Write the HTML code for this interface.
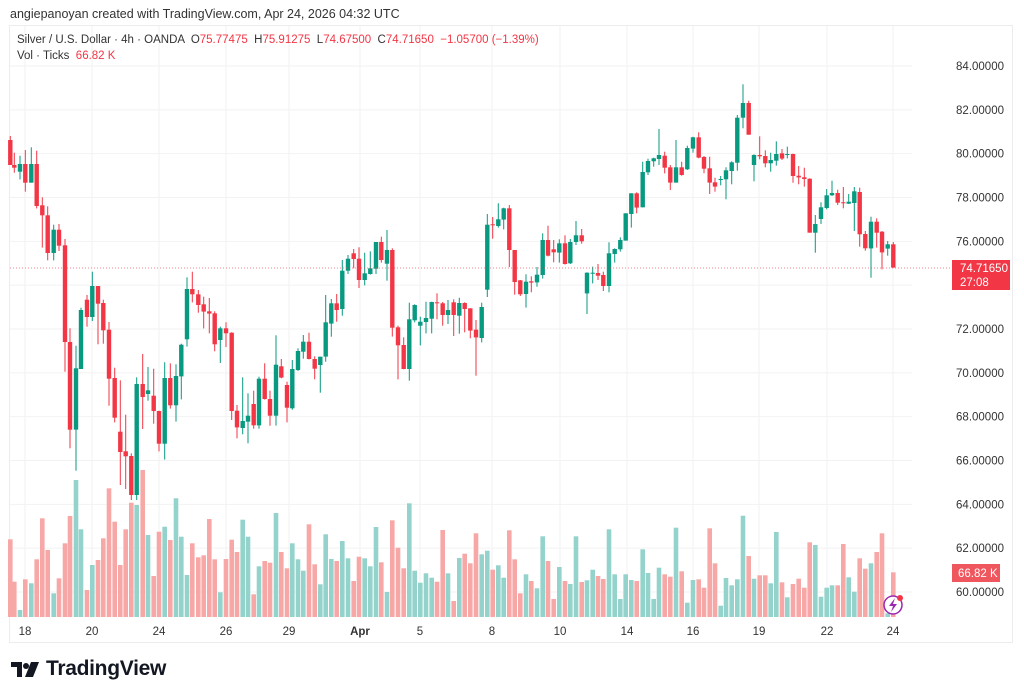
<!DOCTYPE html>
<html><head><meta charset="utf-8"><style>
body{margin:0;background:#fff;width:1024px;height:699px;overflow:hidden;font-family:"Liberation Sans",sans-serif;position:relative}
.t{position:absolute;white-space:nowrap}
</style></head><body>
<div class="t" style="left:10px;top:7px;font-size:12.5px;color:#333">angiepanoyan created with TradingView.com, Apr 24, 2026 04:32 UTC</div>
<div style="position:absolute;left:9px;top:25px;width:1004px;height:618px;border:1px solid #ececec;box-sizing:border-box"></div>
<svg id="c" width="1024" height="699" style="position:absolute;left:0;top:0"></svg>
<div class="t" style="left:17px;top:34px;font-size:11.5px;color:#333">Silver / U.S. Dollar · 4h · OANDA &nbsp;O<span style="color:#f23645">75.77475</span> &nbsp;H<span style="color:#f23645">75.91275</span> &nbsp;L<span style="color:#f23645">74.67500</span> &nbsp;C<span style="color:#f23645">74.71650</span> &nbsp;<span style="color:#f23645">−1.05700 (−1.39%)</span></div>
<div class="t" style="left:17px;top:50px;font-size:11.5px;color:#333">Vol · Ticks &nbsp;<span style="color:#f23645">66.82 K</span></div>
<svg style="position:absolute;left:11px;top:662px" width="30" height="16"><path d="M0 0H11V15H6V5H0Z" fill="#131722"/><circle cx="15" cy="4" r="3" fill="#131722"/><path d="M20 0H28L22 15H14Z" fill="#131722"/></svg>
<div class="t" style="left:46px;top:657px;font-size:21px;font-weight:bold;color:#131722;letter-spacing:-0.3px">TradingView</div>
<script>
const s=document.getElementById('c');let h='';
const R='#f23645',G='#089981',VR='#f7a8a6',VG='#93d3cc';
const yp=p=>66+(84-p)*21.917;
for(let p=60;p<=84;p+=2){const y=yp(p);h+=`<line x1="10" x2="912" y1="${y}" y2="${y}" stroke="#f2f2f2"/>`;
h+=`<text x="1004" y="${y+4}" font-size="11.5" fill="#333" text-anchor="end" font-family="Liberation Sans">${p.toFixed(5)}</text>`;}
const dx=[[25,'18'],[92,'20'],[159,'24'],[226,'26'],[289,'29'],[360,'Apr'],[420,'5'],[492,'8'],[560,'10'],[627,'14'],[693,'16'],[759,'19'],[827,'22'],[893,'24']];
dx.forEach(([x,l])=>{h+=`<line x1="${x}" x2="${x}" y1="26" y2="618" stroke="#f2f2f2"/>`;
h+=`<text x="${x}" y="635" font-size="11.5" fill="#333" text-anchor="middle" font-family="Liberation Sans" ${l=='Apr'?'font-weight="bold"':''}>${l}</text>`});
const A=[[31,60,135,48,135,'r',208],[43,135,143,98,158,'r',335],[60,132,155,107,178,'g',420],[76,132,188,90,215,'r',328],[94,132,188,82,188,'g',340],[110,132,258,92,265,'r',268],[127,256,286,232,383,'r',145],[143,286,399,259,421,'r',240],[161,329,399,314,421,'g',370],[177,329,377,312,393,'r',325],[195,376,666,357,755,'r',220],[210,666,929,625,985,'r',138],[228,745,929,677,1052,'g',30],[243,570,747,563,747,'g',178],[261,539,591,525,620,'r',360],[277,498,591,455,603,'g',285],[294,498,551,498,673,'r',270],[310,549,631,539,671,'r',205],[327,629,776,606,857,'r',55],[344,774,893,743,907,'r',155],[361,935,996,781,1095,'r',285],[377,994,1009,884,1107,'r',178],[394,1008,1125,1000,1140,'r',98],[410,792,1125,772,1140,'g',105],[428,792,831,702,927,'r',0],[444,811,822,741,842,'g',195],[461,827,873,746,911,'r',318],[477,873,971,872,994,'r',185],[494,774,971,727,1019,'g',170],[511,774,856,730,866,'r',210],[528,768,856,733,905,'g',85],[544,674,769,671,838,'g',200],[561,507,658,472,680,'g',315],[577,507,523,455,547,'r',220],[595,523,555,510,578,'r',262],[611,553,575,530,625,'r',256],[628,574,581,534,640,'r',147],[644,580,673,574,694,'r',268],[661,625,660,620,729,'g',367],[678,625,640,607,681,'r',267],[695,638,873,637,900,'r',209],[711,872,922,855,955,'r',246],[728,903,924,772,943,'g',149],[744,887,905,820,970,'g',200],[761,852,916,812,926,'r',373],[777,776,916,770,926,'g',289],[794,776,837,730,839,'r',273],[810,837,887,812,917,'r',278],[828,734,887,646,917,'g',129],[844,739,773,717,775,'r',246],[861,795,863,785,907,'r',295],[877,747,865,720,869,'g',220],[894,693,750,685,753,'g',268]];
const B=[[10,665,695,645,716,'g',302],[27,665,717,638,718,'r',163],[44,717,746,709,778,'r',283],[61,710,735,710,818,'g',343],[77,607,710,525,725,'g',193],[94,550,611,537,650,'g',267],[110,550,570,522,605,'r',273],[127,452,567,420,587,'g',213],[144,416,452,405,462,'g',265],[161,400,417,387,445,'r',333],[177,416,480,382,504,'r',260],[194,460,480,398,496,'g',265],[211,445,462,394,464,'g',289],[228,366,446,366,462,'g',171],[244,366,420,350,428,'r',277],[261,390,431,330,482,'g',366],[277,390,623,385,650,'r',151],[294,622,676,617,778,'r',233],[311,675,747,652,748,'r',295],[328,598,747,548,782,'g',100],[344,555,601,553,607,'g',302],[361,605,617,590,676,'g',338],[378,594,606,545,640,'g',310],[395,546,596,545,640,'g',323],[411,547,550,520,598,'r',335],[428,550,585,546,617,'r',180],[444,570,585,540,612,'g',310],[461,547,585,538,648,'r',393],[478,549,587,533,641,'g',264],[494,549,567,547,637,'r',251],[511,565,632,565,655,'r',280],[528,629,652,600,767,'r',190],[545,561,654,548,667,'g',253],[562,314,509,282,531,'g',242],[578,313,316,291,356,'r',299],[595,298,318,250,323,'g',286],[611,265,299,263,328,'g',323],[628,265,390,255,441,'r',181],[644,390,486,390,524,'r',268],[661,481,523,480,528,'r',370],[678,485,522,463,563,'g',313],[694,484,488,469,517,'r',333],[711,464,487,441,500,'g',355],[728,360,465,340,476,'g',199],[744,360,407,317,409,'r',273],[761,388,397,360,427,'r',387],[778,370,398,358,428,'g',291],[795,370,432,346,434,'r',333],[811,366,430,357,432,'g',342],[828,346,366,303,375,'g',199],[845,346,364,327,371,'r',336],[861,458,520,457,582,'g',331],[878,458,460,440,490,'g',299],[894,459,467,432,480,'r',318]];
const C=[[10,585,618,575,633,'r',327],[27,520,618,487,637,'g',178],[44,507,522,505,548,'g',313],[61,480,508,472,515,'g',387],[77,400,482,400,482,'g',313],[94,340,402,340,443,'g',330],[110,340,383,337,400,'r',333],[128,276,382,245,382,'g',238],[144,243,277,236,285,'g',309],[161,235,244,233,260,'g',387],[177,225,237,147,255,'g',293],[194,227,263,215,280,'r',313],[211,262,308,255,330,'r',320],[228,262,308,180,308,'g',173],[245,262,285,245,287,'r',304],[262,204,268,197,270,'g',398],[279,172,206,170,218,'g',330],[296,172,233,157,235,'r',328],[312,231,266,228,280,'r',353],[329,265,308,230,342,'r',175],[345,307,320,293,335,'r',280],[362,297,299,288,316,'g',407],[378,271,298,262,358,'g',324],[395,247,273,244,313,'g',346],[412,113,248,105,272,'g',328],[429,69,113,13,145,'g',137],[446,69,164,62,164,'r',258],[462,225,255,223,304,'g',326],[479,225,229,169,238,'r',316],[496,228,250,211,262,'r',316],[512,240,250,218,275,'g',340],[529,222,242,184,257,'g',186],[546,220,236,207,240,'r',337],[562,222,224,200,235,'g',382],[579,222,288,221,308,'r',342],[596,287,292,258,313,'r',326],[613,292,297,263,320,'r',353],[629,296,458,295,458,'r',217],[646,432,458,405,518,'g',225],[663,382,417,367,432,'g',380],[680,346,384,327,388,'g',353],[696,339,346,302,348,'g',346],[713,339,368,329,375,'r',346],[730,367,370,321,385,'r',222],[746,365,371,342,372,'g',322],[763,334,369,321,453,'g',365],[779,336,463,323,500,'r',265],[796,462,505,453,512,'r',296],[813,425,505,410,593,'g',280],[830,425,458,415,503,'r',246],[846,455,517,453,568,'r',190],[863,493,506,483,527,'g',430],[880,493,563,486,563,'r',307]];
const all=[];
A.forEach(d=>all.push([d[0]/3,120,d]));B.forEach(d=>all.push([300+d[0]/3,120,d]));C.forEach(d=>all.push([600+d[0]/3,80,d]));
let vh='',ch='';
all.forEach(([x,o,d])=>{const col=d[5]=='r'?R:G,vc=d[5]=='r'?VR:VG;
const vt=470+d[6]/3;vh+=`<rect x="${(x-2.3).toFixed(1)}" y="${vt.toFixed(1)}" width="4.6" height="${(617-vt).toFixed(1)}" fill="${vc}"/>`;
const bt=o+d[1]/3,bb=o+d[2]/3,wt=o+d[3]/3,wb=o+d[4]/3;
ch+=`<rect x="${(x-0.5).toFixed(1)}" y="${wt.toFixed(1)}" width="1" height="${Math.max(1,wb-wt).toFixed(1)}" fill="${col}"/>`;
ch+=`<rect x="${(x-2.2).toFixed(1)}" y="${bt.toFixed(1)}" width="4.4" height="${Math.max(1,bb-bt).toFixed(1)}" fill="${col}"/>`;});
h+=vh+ch;
h+=`<line x1="10" x2="952" y1="268" y2="268" stroke="#f23645" stroke-width="1" stroke-dasharray="1,2" opacity="0.6"/>`;
h+=`<rect x="952" y="260" width="58" height="30" fill="#f23645"/><text x="960" y="272" font-size="11.5" fill="#fff" font-family="Liberation Sans">74.71650</text><text x="960" y="286" font-size="11.5" fill="#fff" font-family="Liberation Sans">27:08</text>`;
h+=`<rect x="952" y="564" width="48" height="18" fill="#f0565e"/><text x="958" y="577" font-size="11.5" fill="#fff" font-family="Liberation Sans">66.82 K</text>`;
h+=`<circle cx="893" cy="605" r="9" fill="#fff" stroke="#9c27b0" stroke-width="1.5"/><path d="M895 598 L889 606 L893 606 L891 612 L897 604 L893 604 Z" fill="#9c27b0"/><circle cx="900" cy="598" r="3" fill="#f23645"/>`;
s.innerHTML=h;
</script>
</body></html>
